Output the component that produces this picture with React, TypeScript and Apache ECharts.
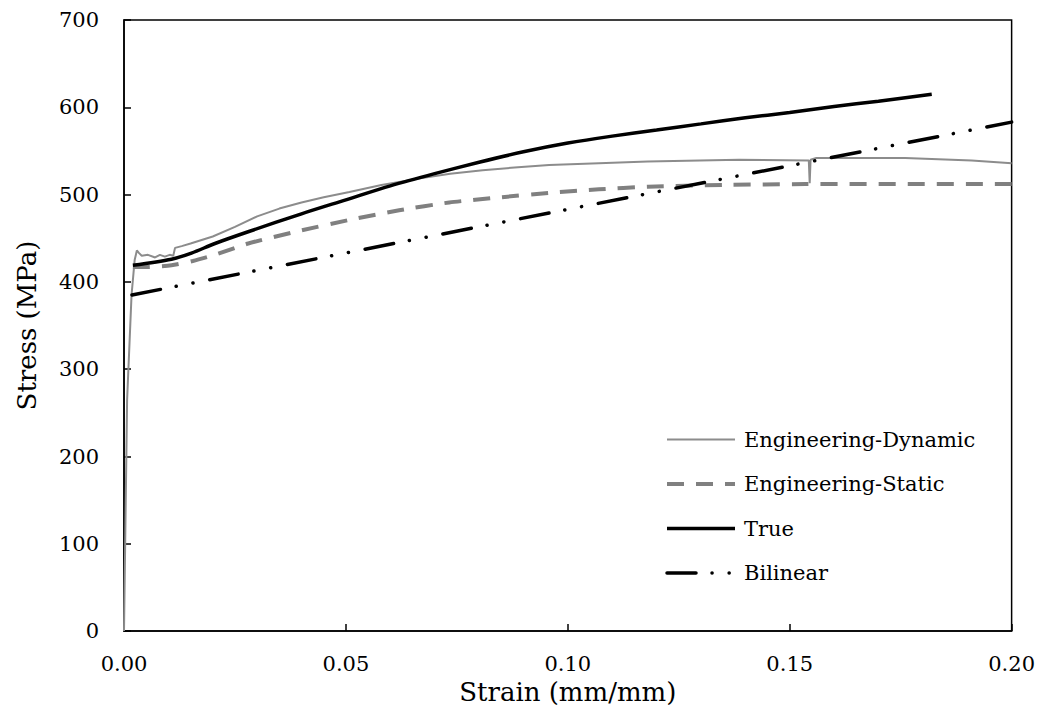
import React, { useEffect, useRef } from "react";
import * as echarts from "echarts";

const seriesNames = ["Engineering-Dynamic", "Engineering-Static", "True", "Bilinear"];

const dynamicStrain = [0, 0.0007, 0.0017, 0.0024, 0.0029, 0.0034, 0.004, 0.0054, 0.007, 0.0081, 0.0092, 0.0103, 0.0111, 0.0115, 0.013, 0.015, 0.02, 0.025, 0.03, 0.035, 0.04, 0.045, 0.0508, 0.058, 0.066, 0.0735, 0.0808, 0.088, 0.0958, 0.107, 0.118, 0.1386, 0.1543, 0.1545, 0.1547, 0.156, 0.176, 0.191, 0.2];
const dynamicStress = [0, 265, 385, 425, 436, 433, 430, 431, 428, 431, 429, 431, 430, 439, 441, 444, 452, 463, 475, 484, 491, 497, 503, 511, 518, 524, 528, 531, 534, 536, 538, 540, 539, 513, 540, 542, 542, 539, 536];

const staticStrain = [0.002, 0.005, 0.0107, 0.0155, 0.0205, 0.028, 0.04, 0.0508, 0.062, 0.0733, 0.085, 0.0958, 0.107, 0.118, 0.135, 0.1536, 0.2];
const staticStress = [417, 417, 419, 424, 431, 444, 459, 471, 482, 491, 497, 502, 506, 509, 511, 512, 512];

const trueStrain = [0.002, 0.0107, 0.0152, 0.0205, 0.0283, 0.04, 0.05, 0.06, 0.07, 0.08, 0.09, 0.1, 0.11, 0.12, 0.13, 0.14, 0.15, 0.16, 0.17, 0.182];
const trueStress = [419, 426, 433, 444, 458, 478, 494, 510, 524, 537, 549, 559, 567, 574, 581, 588, 594, 601, 607, 615];

const bilinearStrain = [0.0018, 0.2];
const bilinearStress = [385, 583];

const xTicks = { min: 0, max: 0.2, interval: 0.05 };
const yTicks = { min: 0, max: 700, interval: 100 };

const pair = (xs: number[], ys: number[]) => xs.map((x, i) => [x, ys[i]]);

const FONT = "DejaVu Serif";

export default function App() {
  const ref = useRef<HTMLDivElement>(null);
  useEffect(() => {
    document.body.style.margin = "0";
    const chart = echarts.init(ref.current!, null, { renderer: "svg" });
    chart.setOption({
      animation: false,
      backgroundColor: "#fff",
      textStyle: { fontFamily: FONT },
      grid: {
        left: 124,
        right: 25,
        top: 20,
        bottom: 78,
        show: true,
        borderColor: "#000",
        borderWidth: 1.5,
        backgroundColor: "transparent",
      },
      legend: {
        data: [
          { name: seriesNames[0], lineStyle: { width: 2 } },
          { name: seriesNames[1], lineStyle: { width: 4 } },
          { name: seriesNames[2], lineStyle: { width: 3.5 } },
          { name: seriesNames[3], lineStyle: { width: 3.5 } },
        ],
        orient: "vertical",
        left: 660,
        top: 424,
        itemWidth: 68,
        itemHeight: 14,
        itemGap: 23.5,
        itemStyle: { opacity: 0 },
        textStyle: { fontSize: 21, fontFamily: FONT, color: "#000", padding: [0, 0, 0, 4] },
      },
      xAxis: {
        type: "value",
        min: xTicks.min,
        max: xTicks.max,
        interval: xTicks.interval,
        name: "Strain (mm/mm)",
        nameLocation: "middle",
        nameGap: 40,
        nameTextStyle: { fontSize: 26, fontFamily: FONT, color: "#000" },
        axisLine: { lineStyle: { color: "#000", width: 1.5 } },
        axisTick: { inside: true, length: 7, lineStyle: { color: "#000", width: 1.5 } },
        axisLabel: {
          fontSize: 21,
          fontFamily: FONT,
          color: "#000",
          margin: 22,
          formatter: (v: number) => v.toFixed(2),
        },
        splitLine: { show: false },
      },
      yAxis: {
        type: "value",
        min: yTicks.min,
        max: yTicks.max,
        interval: yTicks.interval,
        name: "Stress (MPa)",
        nameLocation: "middle",
        nameGap: 84,
        nameTextStyle: { fontSize: 26, fontFamily: FONT, color: "#000" },
        axisLine: { lineStyle: { color: "#000", width: 1.5 } },
        axisTick: { inside: true, length: 7, lineStyle: { color: "#000", width: 1.5 } },
        axisLabel: { fontSize: 21, fontFamily: FONT, color: "#000", margin: 25 },
        splitLine: { show: false },
      },
      series: [
        {
          name: seriesNames[0],
          type: "line",
          data: pair(dynamicStrain, dynamicStress),
          showSymbol: false,
          symbol: "none",
          symbolSize: 0,
          lineStyle: { color: "#8c8c8c", width: 2 },
          itemStyle: { color: "#8c8c8c" },
          z: 2,
        },
        {
          name: seriesNames[1],
          type: "line",
          data: pair(staticStrain, staticStress),
          showSymbol: false,
          symbol: "none",
          symbolSize: 0,
          smooth: 0.2,
          lineStyle: { color: "#808080", width: 4, type: [17, 12] },
          itemStyle: { color: "#808080" },
          z: 3,
        },
        {
          name: seriesNames[2],
          type: "line",
          data: pair(trueStrain, trueStress),
          showSymbol: false,
          symbol: "none",
          symbolSize: 0,
          smooth: 0.3,
          lineStyle: { color: "#000", width: 3.5 },
          itemStyle: { color: "#000" },
          z: 4,
        },
        {
          name: seriesNames[3],
          type: "line",
          data: pair(bilinearStrain, bilinearStress),
          showSymbol: false,
          symbol: "none",
          symbolSize: 0,
          lineStyle: { color: "#000", width: 3.5, type: [29, 16, 0.1, 17, 0.1, 17], cap: "round" },
          itemStyle: { color: "#000" },
          z: 5,
        },
      ],
    });
    return () => chart.dispose();
  }, []);
  return <div ref={ref} style={{ width: 1038, height: 710 }} />;
}
